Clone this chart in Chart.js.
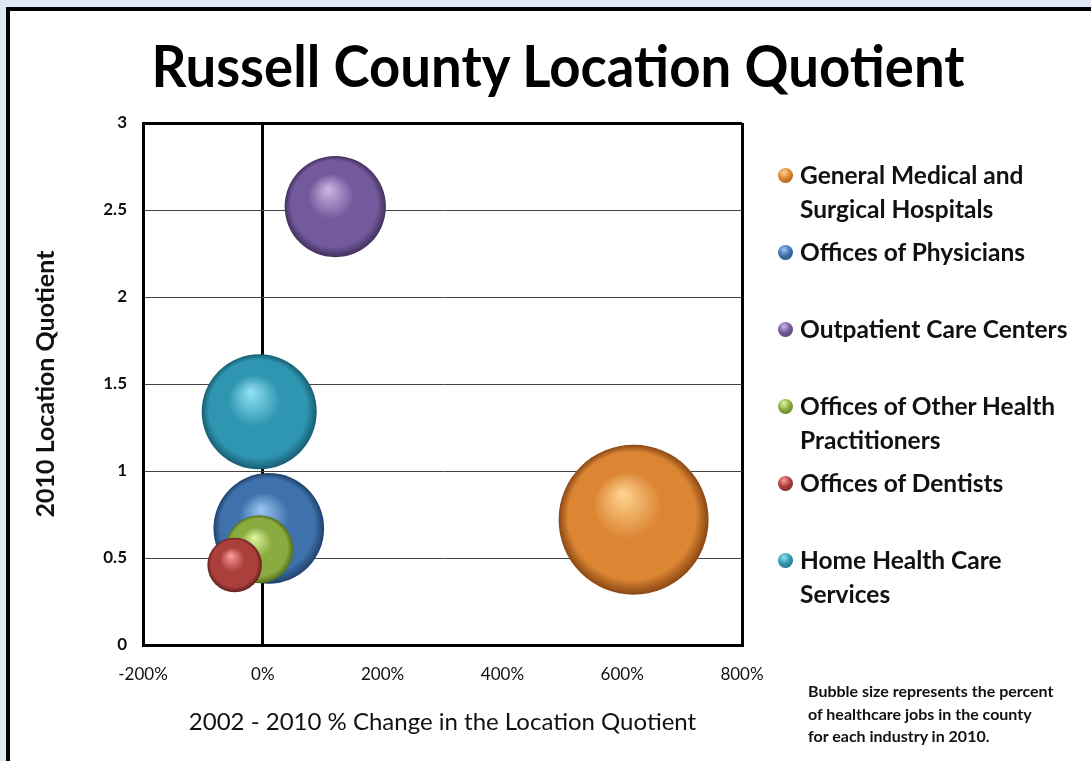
<!DOCTYPE html>
<html>
<head>
<meta charset="utf-8">
<script src="https://cdn.jsdelivr.net/npm/chart.js@4.4.1/dist/chart.umd.min.js"></script>
<style>
  html, body { margin: 0; padding: 0; }
  body { width: 1091px; height: 761px; background: #e1e8f5; position: relative; overflow: hidden; font-family: Lato, "Open Sans", sans-serif; }
  #panel { position: absolute; left: 6px; top: 7px; width: 1200px; height: 800px; background: #fff; border-left: 4px solid #000; border-top: 4px solid #000; }
  #wrap { position: absolute; left: 0; top: 0; width: 1091px; height: 761px; }
  #title { position: absolute; top: 36px; left: 558px; white-space: nowrap; font-weight: 700; font-size: 58px; line-height: 1; color: #000; transform-origin: 0 0; }
  #legend { position: absolute; left: 778px; top: 0; }
  .item { position: absolute; left: 0; white-space: nowrap; font-weight: 700; font-size: 24.5px; line-height: 34px; color: #111; }
  .item span.dot { position: absolute; left: 0; top: 10px; width: 15px; height: 15px; border-radius: 50%; }
  .item span.txt { display: block; margin-left: 22px; }
  #note { position: absolute; left: 808px; top: 680px; font-weight: 700; font-size: 16px; line-height: 22.5px; color: #111; }
</style>
</head>
<body>
<div id="panel"></div>
<div id="wrap"><canvas id="lq"></canvas></div>
<div id="title">Russell County Location Quotient</div>
<div id="legend"></div>
<div id="note">Bubble size represents the percent<br>of healthcare jobs in the county<br>for each industry in 2010.</div>
<script>
// industries, in legend order
const industries = [
    ["General Medical and", "Surgical Hospitals"],
    ["Offices of Physicians"],
    ["Outpatient Care Centers"],
    ["Offices of Other Health", "Practitioners"],
    ["Offices of Dentists"],
    ["Home Health Care", "Services"]
];
const pctChange = [619, 10, 121, -6, -47, -6];        // 2002-2010 % change in LQ
const lq2010 = [0.72, 0.67, 2.52, 0.55, 0.46, 1.34];   // 2010 location quotient
const jobShare = [34, 18.5, 15.5, 7, 4.5, 20];         // % of county healthcare jobs
const xTicks = [-200, 0, 200, 400, 600, 800];
const yTicks = [0, 0.5, 1, 1.5, 2, 2.5, 3];

// sphere shades: highlight, base, rim
const shades = [
    ['#ffd592', '#dc8633', '#8a4714'],
    ['#9cc6f0', '#3f72ad', '#1f426b'],
    ['#cdb8e6', '#735a9c', '#43305f'],
    ['#e2f7a4', '#8aab40', '#516e1c'],
    ['#ff9e98', '#aa3f3c', '#66201d'],
    ['#94e4f5', '#2f96b1', '#175e73']
];

const RADIUS_K = 12.86; // px per sqrt(percent)

// squeeze the title to the narrow face of the original
const t = document.getElementById('title');
t.style.transform = 'scaleX(' + (813 / t.offsetWidth) + ') translateX(-50%)';

// legend
const legend = document.getElementById('legend');
industries.forEach((name, i) => {
    const d = document.createElement('div');
    d.className = 'item';
    d.style.top = (158 + i * 77) + 'px';
    const s = shades[i];
    d.innerHTML = '<span class="dot" style="background: radial-gradient(circle at 40% 30%, ' + s[0] + ' 0%, ' + s[1] + ' 45%, ' + s[2] + ' 100%)"></span>'
        + '<span class="txt">' + name.join('<br>') + '</span>';
    legend.appendChild(d);
});

function sphere(c, cx, cy, r, s) {
    const g = c.createRadialGradient(cx - r * 0.15, cy - r * 0.35, 0, cx, cy, r);
    g.addColorStop(0, s[0]);
    g.addColorStop(0.45, s[1]);
    g.addColorStop(0.85, s[1]);
    g.addColorStop(1, s[2]);
    return g;
}

const datasets = industries.map((name, i) => ({
    label: name.join(' '),
    data: [{ x: pctChange[i], y: lq2010[i], r: RADIUS_K * Math.sqrt(jobShare[i]) }],
    order: industries.length - i,
    borderWidth: 0,
    backgroundColor: (ctx) => {
        if (ctx.type !== 'data' || !ctx.raw) return shades[i][1];
        const ch = ctx.chart;
        const px = ch.scales.x.getPixelForValue(ctx.raw.x);
        const py = ch.scales.y.getPixelForValue(ctx.raw.y);
        if (!isFinite(px) || !isFinite(py)) return shades[i][1];
        return sphere(ch.ctx, px, py, ctx.raw.r, shades[i]);
    }
}));

const canvas = document.getElementById('lq');
canvas.width = 1091; canvas.height = 761;

new Chart(canvas, {
    type: 'bubble',
    data: { datasets },
    options: {
        responsive: false,
        animation: false,
        events: [],
        layout: { padding: { left: 31, top: 123, right: 349, bottom: 24 } },
        plugins: { legend: { display: false }, tooltip: { enabled: false } },
        scales: {
            x: {
                type: 'linear', min: -200, max: 800,
                afterBuildTicks: (s) => { s.ticks = xTicks.map(v => ({ value: v })); },
                afterFit: (s) => { s.height = 92; },
                border: { color: '#000', width: 3 },
                grid: {
                    drawTicks: false,
                    color: (c) => (c.tick && (c.tick.value === 0 || c.tick.value === 800)) ? '#000' : 'rgba(0,0,0,0)',
                    lineWidth: 3
                },
                ticks: {
                    padding: 19, color: '#111',
                    font: { family: 'Lato', size: 17 },
                    callback: (v) => v + '%'
                },
                title: {
                    display: true, text: '2002 - 2010 % Change in the Location Quotient',
                    color: '#111', font: { family: 'Lato', size: 24 }, padding: 0
                }
            },
            y: {
                type: 'linear', min: 0, max: 3,
                afterBuildTicks: (s) => { s.ticks = yTicks.map(v => ({ value: v })); },
                afterFit: (s) => { s.width = 112; },
                border: { color: '#000', width: 3 },
                grid: {
                    drawTicks: false,
                    color: (c) => (c.tick && c.tick.value === 3) ? '#000' : '#444',
                    lineWidth: (c) => (c.tick && c.tick.value === 3) ? 3 : 1
                },
                ticks: {
                    padding: 16, color: '#111',
                    font: { family: 'Lato', size: 17, weight: 'bold' },
                    callback: (v) => String(v)
                },
                title: {
                    display: true, text: '2010 Location Quotient',
                    color: '#111', font: { family: 'Lato', size: 25, weight: 'bold' }, padding: 0
                }
            }
        }
    }
});
</script>
</body>
</html>
